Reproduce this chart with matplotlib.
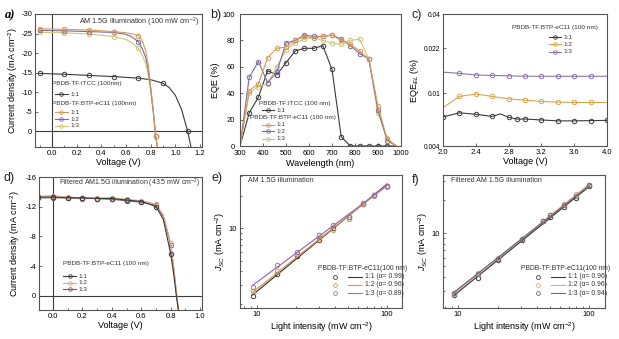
import numpy as np
import matplotlib
matplotlib.use("Agg")
import matplotlib.pyplot as plt
from matplotlib.ticker import FixedLocator, NullLocator, NullFormatter, FixedFormatter, MultipleLocator

plt.rcParams['font.family'] = ['Liberation Sans', 'DejaVu Sans']
plt.rcParams['axes.unicode_minus'] = False
plt.rcParams['mathtext.fontset'] = 'custom'
plt.rcParams['mathtext.rm'] = 'Liberation Sans'
plt.rcParams['mathtext.it'] = 'Liberation Sans:italic'

# ---------------- data ----------------
# (a) J-V under AM 1.5G, 100 mW cm-2
v_a_ec11 = [-0.1, 0.1, 0.3, 0.5, 0.6, 0.65, 0.7, 0.73, 0.76, 0.78, 0.8, 0.82, 0.84, 0.86]
j_a_11 = [-26.2, -26.1, -25.9, -25.5, -25.2, -24.9, -24.5, -23.3, -20.5, -17.0, -11.5, -5.8, 1.2, 5.0]
j_a_12 = [-25.8, -25.7, -25.5, -25.3, -24.8, -24.1, -22.9, -21.3, -18.8, -15.8, -10.8, -5.3, 1.2, 5.0]
j_a_13 = [-25.3, -25.2, -24.9, -24.2, -23.5, -22.6, -21.2, -19.6, -17.2, -14.6, -10.2, -5.0, 1.2, 5.0]
mk_a_ec11 = [0, 1, 2, 3, 6, 12]
v_a_itcc = [-0.1, 0.1, 0.3, 0.5, 0.7, 0.8, 0.9, 0.95, 1.0, 1.05, 1.1, 1.13]
j_a_itcc = [-14.8, -14.6, -14.3, -14.0, -13.6, -13.2, -12.3, -11.2, -9.2, -5.6, 0.0, 4.5]
mk_a_itcc = [0, 1, 2, 3, 4, 6, 10]

# (b) EQE spectra
wl_b = [300, 340, 380, 420, 460, 500, 540, 580, 620, 660, 700, 740, 780, 820, 860, 900, 940, 980]
eqe_itcc = [0, 25, 37, 57, 54, 63, 72, 74, 74, 76, 58, 7, 0, 0, 0, 0, 0, 0]
eqe_11 = [0, 42, 47, 67, 74, 75, 80, 83, 82, 83, 84, 80, 77, 72, 66, 30, 5, 0]
eqe_12 = [0, 52, 64, 48, 56, 78, 80, 84, 83, 83, 84, 81, 76, 70, 66, 27, 4, 0]
eqe_13 = [0, 40, 45, 47, 60, 73, 78, 81, 82, 80, 78, 77, 80, 81, 66, 25, 6, 0]

# (c) EQE_EL vs voltage
v_c1 = [2.0, 2.2, 2.4, 2.6, 2.7, 2.8, 2.9, 3.0, 3.2, 3.4, 3.6, 3.8, 4.0]
el_11 = [0.00665, 0.00713, 0.00696, 0.0067, 0.0070, 0.0066, 0.0064, 0.0064, 0.0063, 0.0062, 0.0062, 0.00623, 0.00625]
v_c2 = [2.0, 2.2, 2.4, 2.6, 2.8, 3.0, 3.2, 3.4, 3.6, 3.8, 4.0]
el_12 = [0.0078, 0.0095, 0.0099, 0.0095, 0.0091, 0.0089, 0.0087, 0.0086, 0.00855, 0.00855, 0.00855]
el_13 = [0.0145, 0.0142, 0.0138, 0.0137, 0.0136, 0.0135, 0.0135, 0.0135, 0.0135, 0.0135, 0.0135]

# (d) J-V under filtered AM 1.5G, 43.5 mW cm-2
v_d = [-0.1, 0.0, 0.1, 0.2, 0.3, 0.4, 0.5, 0.6, 0.65, 0.7, 0.75, 0.8, 0.82, 0.84, 0.86]
j_d_11 = [-13.3, -13.3, -13.2, -13.2, -13.1, -13.1, -12.9, -12.7, -12.4, -12.0, -10.3, -5.7, -3.0, 0.2, 3.0]
j_d_12 = [-13.4, -13.5, -13.3, -13.2, -13.2, -13.2, -13.0, -12.8, -12.6, -12.3, -10.9, -7.1, -4.0, -0.3, 3.0]
j_d_13 = [-13.2, -13.2, -13.2, -13.1, -13.1, -13.0, -12.8, -12.6, -12.4, -12.2, -10.7, -6.9, -3.8, -0.2, 3.0]
mk_d = [0, 1, 2, 3, 4, 5, 6, 7, 9, 11]

# (e) Jsc vs light intensity, AM 1.5G
p_e = [9.3, 14.2, 20.5, 30.3, 38.5, 50.7, 65, 80, 100]
jsc_e_11 = [2.35, 3.78, 5.6, 7.8, 10.0, 12.8, 16.7, 20.3, 24.7]
jsc_e_12 = [2.65, 4.05, 5.76, 8.1, 9.65, 12.2, 16.6, 20.0, 24.0]
jsc_e_13 = [2.85, 4.54, 6.0, 8.68, 10.6, 12.8, 16.9, 20.3, 24.7]
alpha_e = [0.99, 0.96, 0.89]

# (f) Jsc vs light intensity, filtered AM 1.5G
p_f = [9.3, 14.2, 20.2, 30.5, 44.8, 50.3, 64.7, 79.6, 100]
jsc_f_11 = [2.72, 3.9, 5.73, 8.7, 12.8, 13.9, 17.4, 20.8, 26.7]
jsc_f_12 = [2.8, 4.34, 5.93, 8.9, 13.0, 14.6, 18.3, 22.6, 27.4]
jsc_f_13 = [2.86, 4.25, 5.86, 8.8, 12.8, 14.5, 18.1, 22.0, 27.4]
alpha_f = [0.96, 0.96, 0.94]

ratios = ['1:1', '1:2', '1:3']

# ---------------- style ----------------
BLACK = '#3b3b3b'
ORANGE = '#d69a5e'
PURPLE = '#7d6b9c'
YELLOW = '#cbc77e'
SPINE = '#555555'
TICK_FS = 5.5
LAB_FS = 6.5
LEG_FS = 4.6
MS = 3.2

fig = plt.figure(figsize=(6.19, 3.39), dpi=100)
W, H = 619.0, 339.0


def add_axes(l, r, t, b):
    return fig.add_axes([l / W, 1 - b / H, (r - l) / W, (b - t) / H])


def style(ax):
    for s in ax.spines.values():
        s.set_color(SPINE)
        s.set_linewidth(0.8)
    ax.tick_params(which='both', direction='in', labelsize=TICK_FS, color=SPINE,
                   width=0.6, pad=2)
    ax.tick_params(which='major', length=2.5)
    ax.tick_params(which='minor', length=1.5)


def curve(ax, x, y, color, mk=None, lw=0.8):
    ax.plot(x, y, color=color, lw=lw, marker='o', markersize=MS, markerfacecolor='none',
            markeredgewidth=0.7, markevery=mk)


def key(ax, x, y, color, label, w=0.075, fs=LEG_FS):
    ax.plot([x, x + w / 2, x + w], [y, y, y], transform=ax.transAxes, color=color, lw=0.8,
            marker='o', markersize=2.6, markerfacecolor='none', markeredgewidth=0.6,
            markevery=[1], clip_on=False)
    ax.text(x + w + 0.015, y, label, transform=ax.transAxes, fontsize=fs, va='center',
            ha='left', color='#333333')


def head(ax, x, y, text, fs=LEG_FS):
    ax.text(x, y, text, transform=ax.transAxes, fontsize=fs, va='center', ha='left',
            color='#333333')


# ---------------- (a) ----------------
ax = add_axes(35, 202, 14, 147)
style(ax)
ax.axhline(0, color=BLACK, lw=0.8)
ax.axvline(0, color=BLACK, lw=0.8)
curve(ax, v_a_itcc, j_a_itcc, BLACK, mk_a_itcc)
curve(ax, v_a_ec11, j_a_13, YELLOW, mk_a_ec11)
curve(ax, v_a_ec11, j_a_12, PURPLE, mk_a_ec11)
curve(ax, v_a_ec11, j_a_11, ORANGE, mk_a_ec11)
ax.set_xlim(-0.138, 1.216)
ax.set_ylim(4.0, -30.0)
ax.xaxis.set_major_locator(MultipleLocator(0.2))
ax.xaxis.set_minor_locator(MultipleLocator(0.1))
ax.yaxis.set_major_locator(MultipleLocator(5))
ax.xaxis.set_major_formatter(plt.FormatStrFormatter('%.1f'))
ax.set_xlabel('Voltage (V)', fontsize=LAB_FS, labelpad=1)
ax.set_ylabel('Current density (mA cm$^{-2}$)', fontsize=LAB_FS, labelpad=1)
ax.text(0.985, 0.94, 'AM 1.5G illumination (100 mW cm$^{-2}$)', transform=ax.transAxes,
        fontsize=5.2, ha='right', va='center', color='#333333')
head(ax, 0.10, 0.475, 'PBDB-TF:ITCC (100nm)')
key(ax, 0.12, 0.395, BLACK, '1:1')
head(ax, 0.10, 0.325, 'PBDB-TF:BTP-eC11 (100nm)')
key(ax, 0.12, 0.26, ORANGE, '1:1')
key(ax, 0.12, 0.21, PURPLE, '1:2')
key(ax, 0.12, 0.16, YELLOW, '1:3')

# ---------------- (b) ----------------
ax = add_axes(240, 401, 14, 146)
style(ax)
curve(ax, wl_b, eqe_itcc, BLACK, list(range(1, 17)))
curve(ax, wl_b, eqe_13, YELLOW, list(range(1, 17)))
curve(ax, wl_b, eqe_12, PURPLE, list(range(1, 17)))
curve(ax, wl_b, eqe_11, ORANGE, list(range(1, 17)))
ax.set_xlim(300, 1000)
ax.set_ylim(0, 100)
ax.xaxis.set_major_locator(MultipleLocator(100))
ax.yaxis.set_major_locator(MultipleLocator(20))
ax.tick_params(axis='y', pad=3.5)
ax.tick_params(axis='x', pad=3)
ax.set_xlabel('Wavelength (nm)', fontsize=LAB_FS, labelpad=1)
ax.set_ylabel('EQE (%)', fontsize=LAB_FS, labelpad=2)
head(ax, 0.12, 0.32, 'PBDB-TF:ITCC (100 nm)')
key(ax, 0.135, 0.27, BLACK, '1:1')
head(ax, 0.06, 0.215, 'PBDB-TF:BTP-eC11 (100 nm)')
key(ax, 0.135, 0.16, ORANGE, '1:1')
key(ax, 0.135, 0.11, PURPLE, '1:2')
key(ax, 0.135, 0.055, YELLOW, '1:3')

# ---------------- (c) ----------------
C_ORANGE = '#d9a64c'
C_PURPLE = '#8c76a8'
ax = add_axes(443, 607, 14, 146)
style(ax)
ax.set_yscale('log')
curve(ax, v_c1, el_11, BLACK, [0, 1, 2, 3, 5, 6, 7, 8, 9, 10, 11, 12])
curve(ax, v_c2, el_12, C_ORANGE, list(range(1, 10)))
curve(ax, v_c2, el_13, C_PURPLE, list(range(1, 10)))
ax.set_xlim(2.0, 4.0)
ax.set_ylim(0.004, 0.04)
ax.xaxis.set_major_locator(MultipleLocator(0.4))
ax.xaxis.set_major_formatter(plt.FormatStrFormatter('%.1f'))
ax.yaxis.set_major_locator(FixedLocator([0.004, 0.01, 0.022, 0.04]))
ax.yaxis.set_major_formatter(FixedFormatter(['0.004', '0.01', '0.022', '0.04']))
ax.yaxis.set_minor_locator(NullLocator())
ax.tick_params(axis='y', labelsize=4.8)
ax.set_xlabel('Voltage (V)', fontsize=LAB_FS, labelpad=1)
ax.set_ylabel('EQE$_{EL}$ (%)', fontsize=LAB_FS, labelpad=2)
head(ax, 0.42, 0.90, 'PBDB-TF:BTP-eC11 (100 nm)')
key(ax, 0.645, 0.825, BLACK, '1:1')
key(ax, 0.645, 0.77, C_ORANGE, '1:2')
key(ax, 0.645, 0.715, C_PURPLE, '1:3')

# ---------------- (d) ----------------
D_ORANGE = '#dcab86'
D_MAUVE = '#7b5a6e'
ax = add_axes(39, 202, 177, 310)
style(ax)
ax.axhline(0, color=BLACK, lw=0.8)
ax.axvline(0, color=BLACK, lw=0.8)
curve(ax, v_d, j_d_13, D_MAUVE, mk_d)
curve(ax, v_d, j_d_12, D_ORANGE, mk_d)
curve(ax, v_d, j_d_11, BLACK, mk_d)
ax.set_xlim(-0.095, 1.013)
ax.set_ylim(1.9, -16.0)
ax.xaxis.set_major_locator(MultipleLocator(0.2))
ax.xaxis.set_minor_locator(MultipleLocator(0.1))
ax.xaxis.set_major_formatter(plt.FormatStrFormatter('%.1f'))
ax.yaxis.set_major_locator(MultipleLocator(4))
ax.set_xlabel('Voltage (V)', fontsize=LAB_FS, labelpad=1)
ax.set_ylabel('Current density (mA cm$^{-2}$)', fontsize=LAB_FS, labelpad=2)
ax.text(0.99, 0.955, 'Filtered AM1.5G illumination (43.5 mW cm$^{-2}$)', transform=ax.transAxes,
        fontsize=5.0, ha='right', va='center', color='#333333')
head(ax, 0.15, 0.35, 'PBDB-TF:BTP-eC11 (100 nm)')
key(ax, 0.15, 0.255, BLACK, '1:1')
key(ax, 0.15, 0.205, D_ORANGE, '1:2')
key(ax, 0.15, 0.155, D_MAUVE, '1:3')


# ---------------- (e) & (f) ----------------
def fit_line(p, j, a):
    lp = np.log10(p)
    b = np.mean(np.log10(j) - a * lp)
    xs = np.array([min(p), max(p)])
    return xs, 10 ** (b + a * np.log10(xs))


def power_panel(ax, p, series, alphas, colors, title, xlim, ylim):
    style(ax)
    ax.set_xscale('log')
    ax.set_yscale('log')
    for j, a, c in zip(series, alphas, colors):
        xs, ys = fit_line(p, j, a)
        ax.plot(xs, ys, color=c, lw=0.9)
        ax.plot(p, j, ls='none', marker='o', markersize=MS, markerfacecolor='none',
                markeredgecolor=c, markeredgewidth=0.7)
    ax.set_xlim(*xlim)
    ax.set_ylim(*ylim)
    ax.xaxis.set_major_locator(FixedLocator([10, 100]))
    ax.xaxis.set_major_formatter(FixedFormatter(['10', '100']))
    ax.yaxis.set_major_locator(FixedLocator([10]))
    ax.yaxis.set_major_formatter(FixedFormatter(['10']))
    ax.xaxis.set_minor_formatter(NullFormatter())
    ax.yaxis.set_minor_formatter(NullFormatter())
    ax.set_xlabel('Light intensity (mW cm$^{-2}$)', fontsize=LAB_FS, labelpad=2)
    ax.set_ylabel('$J_{SC}$ (mA cm$^{-2}$)', fontsize=LAB_FS, labelpad=1)
    ax.text(0.05, 0.955, title, transform=ax.transAxes, fontsize=5.0, ha='left',
            va='center', color='#333333')
    head(ax, 0.48, 0.30, 'PBDB-TF:BTP-eC11(100 nm)', fs=4.9)
    for i, (r, a, c) in enumerate(zip(ratios, alphas, colors)):
        y = 0.235 - i * 0.062
        ax.plot([0.585], [y], transform=ax.transAxes, ls='none', marker='o', markersize=2.8,
                markerfacecolor='none', markeredgecolor=c, markeredgewidth=0.6, clip_on=False)
        ax.plot([0.665, 0.755], [y, y], transform=ax.transAxes, color=c, lw=0.8, clip_on=False)
        ax.text(0.77, y, f'{r} (\u03b1= {a:.2f})', transform=ax.transAxes, fontsize=4.9,
                ha='left', va='center', color='#333333')


ax = add_axes(240, 402, 175, 308)
power_panel(ax, p_e, [jsc_e_11, jsc_e_12, jsc_e_13], alpha_e,
            [BLACK, '#d49a55', '#9b72b4'], 'AM 1.5G illumination', (7.45, 130), (1.84, 30.9))

ax = add_axes(443, 605, 175, 308)
power_panel(ax, p_f, [jsc_f_11, jsc_f_12, jsc_f_13], alpha_f,
            [BLACK, '#e3a58a', '#6e6e78'], 'Filtered AM 1.5G illumination', (7.68, 132), (2.09, 33.8))

# ---------------- panel letters ----------------
fig.text(5 / W, 1 - 15 / H, 'a)', fontsize=9, fontweight='bold', fontstyle='italic',
         family='Liberation Serif', va='center')
for txt, x, y in [('b)', 210, 15), ('c)', 412, 15), ('d)', 4, 178), ('e)', 212, 178), ('f)', 412, 180)]:
    fig.text(x / W, 1 - y / H, txt, fontsize=9, va='center', color='#222222')

fig.savefig('out.png', dpi=100)
